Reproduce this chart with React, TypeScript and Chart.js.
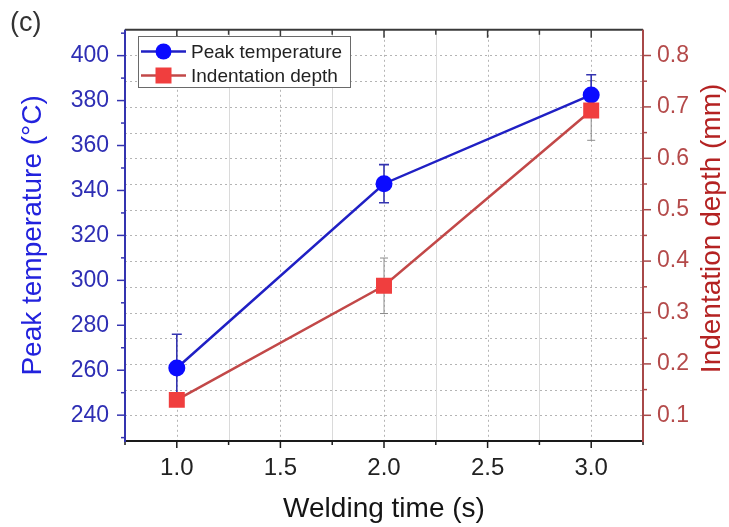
import React, { useEffect, useRef } from "react";
import { Chart, registerables } from "chart.js";

Chart.register(...registerables);

// ---- data ----
const weldingTime = [1.0, 2.0, 3.0];
const peakTemp = [261, 343, 382.5];
const peakTempErr = [15, 8.5, 9];
const indentDepth = [0.13, 0.352, 0.693];
const indentDepthErr = [0.01, 0.054, 0.058];

// ---- axes ----
const xRange = [0.75, 3.25];
const xMajorTicks = [1.0, 1.5, 2.0, 2.5, 3.0];
const xMinorTicks = [0.75, 1.25, 1.75, 2.25, 2.75, 3.25];
const tempRange = [228.5, 411.5];
const tempMajorTicks = [240, 260, 280, 300, 320, 340, 360, 380, 400];
const tempMinorTicks = [230, 250, 270, 290, 310, 330, 350, 370, 390, 410];
const depthRange = [0.05, 0.85];
const depthMajorTicks = [0.1, 0.2, 0.3, 0.4, 0.5, 0.6, 0.7, 0.8];
const depthMinorTicks = [0.15, 0.25, 0.35, 0.45, 0.55, 0.65, 0.75];

const seriesNames = ["Peak temperature", "Indentation depth"];
const xTitle = "Welding time (s)";
const leftTitle = "Peak temperature (°C)";
const rightTitle = "Indentation depth (mm)";
const panelLabel = "(c)";

const FONT = '"Liberation Sans", Arial, Helvetica, sans-serif';

const BLUE_LINE = "#2020c4";
const BLUE_MARK = "#0b0bff";
const BLUE_AXIS = "#3434b0";
const BLUE_TEXT = "#2e2eb4";
const BLUE_TITLE = "#2222dd";
const RED_LINE = "#c24848";
const RED_MARK = "#f03e3e";
const RED_AXIS = "#a84848";
const RED_TEXT = "#b44a4a";
const RED_TITLE = "#b42222";

const decorPlugin = {
  id: "decor",
  beforeDatasetsDraw(chart: any) {
    const { ctx, chartArea: a, scales } = chart;
    const xs = scales.x;
    const yl = scales.y;
    const yr = scales.y1;
    ctx.save();
    ctx.beginPath();
    ctx.rect(a.left, a.top, a.right - a.left, a.bottom - a.top);
    ctx.clip();
    // horizontal dotted grid (right axis major + minor)
    ctx.lineWidth = 1;
    ctx.strokeStyle = "#b4b4b4";
    ctx.setLineDash([2, 3]);
    for (const v of [...depthMajorTicks, ...depthMinorTicks]) {
      const py = Math.round(yr.getPixelForValue(v)) + 0.5;
      ctx.beginPath();
      ctx.moveTo(a.left, py);
      ctx.lineTo(a.right, py);
      ctx.stroke();
    }
    // vertical dotted at majors
    for (const v of xMajorTicks) {
      const px = Math.round(xs.getPixelForValue(v)) + 0.5;
      ctx.beginPath();
      ctx.moveTo(px, a.top);
      ctx.lineTo(px, a.bottom);
      ctx.stroke();
    }
    // vertical solid light at minors
    ctx.setLineDash([]);
    ctx.strokeStyle = "#dadada";
    for (const v of xMinorTicks) {
      const px = Math.round(xs.getPixelForValue(v)) + 0.5;
      ctx.beginPath();
      ctx.moveTo(px, a.top);
      ctx.lineTo(px, a.bottom);
      ctx.stroke();
    }
    ctx.restore();

    // error bars
    const drawErr = (x: number, v: number, e: number, scale: any, color: string, w: number, cap: number) => {
      const px = xs.getPixelForValue(x);
      const p1 = scale.getPixelForValue(v + e);
      const p2 = scale.getPixelForValue(v - e);
      ctx.save();
      ctx.strokeStyle = color;
      ctx.lineWidth = w;
      ctx.beginPath();
      ctx.moveTo(px, p1);
      ctx.lineTo(px, p2);
      ctx.moveTo(px - cap, p1);
      ctx.lineTo(px + cap, p1);
      ctx.moveTo(px - cap, p2);
      ctx.lineTo(px + cap, p2);
      ctx.stroke();
      ctx.restore();
    };
    weldingTime.forEach((t, i) => drawErr(t, indentDepth[i], indentDepthErr[i], yr, "#8c8c8c", 1, 4));
    weldingTime.forEach((t, i) => drawErr(t, peakTemp[i], peakTempErr[i], yl, BLUE_AXIS, 1.6, 5));
  },
  afterDraw(chart: any) {
    const { ctx, chartArea: a, scales } = chart;
    const xs = scales.x;
    const yl = scales.y;
    const yr = scales.y1;
    ctx.save();
    ctx.setLineDash([]);
    // top frame
    ctx.strokeStyle = "#3a3a3a";
    ctx.lineWidth = 2;
    ctx.beginPath();
    ctx.moveTo(a.left, a.top);
    ctx.lineTo(a.right, a.top);
    ctx.stroke();
    ctx.lineWidth = 1.5;
    for (const v of xMajorTicks) {
      const px = xs.getPixelForValue(v);
      ctx.beginPath(); ctx.moveTo(px, a.top); ctx.lineTo(px, a.top + 8); ctx.stroke();
    }
    for (const v of xMinorTicks) {
      const px = xs.getPixelForValue(v);
      ctx.beginPath(); ctx.moveTo(px, a.top); ctx.lineTo(px, a.top + 5); ctx.stroke();
    }
    // bottom axis
    ctx.strokeStyle = "#1a1a1a";
    ctx.lineWidth = 2;
    ctx.beginPath();
    ctx.moveTo(a.left, a.bottom);
    ctx.lineTo(a.right, a.bottom);
    ctx.stroke();
    ctx.lineWidth = 1.5;
    for (const v of xMajorTicks) {
      const px = xs.getPixelForValue(v);
      ctx.beginPath(); ctx.moveTo(px, a.bottom); ctx.lineTo(px, a.bottom + 7); ctx.stroke();
    }
    for (const v of xMinorTicks) {
      const px = xs.getPixelForValue(v);
      ctx.beginPath(); ctx.moveTo(px, a.bottom); ctx.lineTo(px, a.bottom + 4); ctx.stroke();
    }
    // left axis
    ctx.strokeStyle = BLUE_AXIS;
    ctx.lineWidth = 2;
    ctx.beginPath();
    ctx.moveTo(a.left, a.top);
    ctx.lineTo(a.left, a.bottom + 1);
    ctx.stroke();
    ctx.lineWidth = 1.5;
    for (const v of tempMajorTicks) {
      const py = yl.getPixelForValue(v);
      ctx.beginPath(); ctx.moveTo(a.left, py); ctx.lineTo(a.left - 8, py); ctx.stroke();
    }
    for (const v of tempMinorTicks) {
      const py = yl.getPixelForValue(v);
      ctx.beginPath(); ctx.moveTo(a.left, py); ctx.lineTo(a.left - 4, py); ctx.stroke();
    }
    // right axis
    ctx.strokeStyle = RED_AXIS;
    ctx.lineWidth = 2;
    ctx.beginPath();
    ctx.moveTo(a.right, a.top);
    ctx.lineTo(a.right, a.bottom + 1);
    ctx.stroke();
    ctx.lineWidth = 1.5;
    for (const v of depthMajorTicks) {
      const py = yr.getPixelForValue(v);
      ctx.beginPath(); ctx.moveTo(a.right, py); ctx.lineTo(a.right + 8, py); ctx.stroke();
    }
    for (const v of depthMinorTicks) {
      const py = yr.getPixelForValue(v);
      ctx.beginPath(); ctx.moveTo(a.right, py); ctx.lineTo(a.right + 4, py); ctx.stroke();
    }

    // right title (reads bottom to top)
    ctx.save();
    ctx.translate(712, (a.top + a.bottom) / 2 - 7);
    ctx.rotate(-Math.PI / 2);
    ctx.fillStyle = RED_TITLE;
    ctx.font = `28px ${FONT}`;
    ctx.textAlign = "center";
    ctx.textBaseline = "middle";
    ctx.fillText(rightTitle, 0, 0);
    ctx.restore();

    // panel label
    ctx.fillStyle = "#333333";
    ctx.font = `27px ${FONT}`;
    ctx.textAlign = "left";
    ctx.textBaseline = "middle";
    ctx.fillText(panelLabel, 10, 24);

    // legend
    const lx = 138, ly = 36, lw = 212, lh = 51;
    ctx.fillStyle = "#ffffff";
    ctx.fillRect(lx, ly, lw, lh);
    ctx.strokeStyle = "#6a6a6a";
    ctx.lineWidth = 1;
    ctx.strokeRect(lx + 0.5, ly + 0.5, lw, lh);
    const rows = [ly + 15.5, ly + 39.5];
    // blue
    ctx.strokeStyle = BLUE_LINE;
    ctx.lineWidth = 2.5;
    ctx.beginPath(); ctx.moveTo(141, rows[0]); ctx.lineTo(186, rows[0]); ctx.stroke();
    ctx.fillStyle = BLUE_MARK;
    ctx.beginPath(); ctx.arc(163.5, rows[0], 8, 0, Math.PI * 2); ctx.fill();
    // red
    ctx.strokeStyle = RED_LINE;
    ctx.beginPath(); ctx.moveTo(141, rows[1]); ctx.lineTo(186, rows[1]); ctx.stroke();
    ctx.fillStyle = RED_MARK;
    ctx.fillRect(163.5 - 8, rows[1] - 8, 16, 16);
    ctx.fillStyle = "#222222";
    ctx.font = `19px ${FONT}`;
    ctx.textAlign = "left";
    ctx.textBaseline = "middle";
    ctx.fillText(seriesNames[0], 191, rows[0] + 1);
    ctx.fillText(seriesNames[1], 191, rows[1] + 1);
    ctx.restore();
  },
};

export default function App() {
  const ref = useRef<HTMLCanvasElement | null>(null);
  useEffect(() => {
    document.body.style.margin = "0";
    const canvas = ref.current;
    if (!canvas) return;
    const chart = new Chart(canvas, {
      type: "line",
      data: {
        datasets: [
          {
            label: seriesNames[1],
            data: weldingTime.map((t, i) => ({ x: t, y: indentDepth[i] })),
            yAxisID: "y1",
            borderColor: RED_LINE,
            borderWidth: 2.5,
            pointStyle: "rect",
            pointRadius: 11.3,
            pointBackgroundColor: RED_MARK,
            pointBorderColor: RED_MARK,
            pointBorderWidth: 0,
            tension: 0,
          },
          {
            label: seriesNames[0],
            data: weldingTime.map((t, i) => ({ x: t, y: peakTemp[i] })),
            yAxisID: "y",
            borderColor: BLUE_LINE,
            borderWidth: 2.5,
            pointStyle: "circle",
            pointRadius: 8.5,
            pointBackgroundColor: BLUE_MARK,
            pointBorderColor: BLUE_MARK,
            pointBorderWidth: 0,
            tension: 0,
          },
        ],
      },
      options: {
        animation: false,
        responsive: false,
        devicePixelRatio: 1,
        events: [],
        layout: { padding: { top: 25, left: 0, right: 0, bottom: 0 } },
        plugins: { legend: { display: false }, tooltip: { enabled: false } },
        scales: {
          x: {
            type: "linear",
            position: "bottom",
            min: xRange[0],
            max: xRange[1],
            afterBuildTicks: (s: any) => {
              s.ticks = xMajorTicks.map((v) => ({ value: v }));
            },
            ticks: {
              font: { family: FONT, size: 24 },
              color: "#222222",
              padding: 13,
              maxRotation: 0,
              autoSkip: false,
              callback: (v: any) => Number(v).toFixed(1),
            },
            grid: { display: false, drawTicks: false },
            border: { display: false },
            title: {
              display: true,
              text: xTitle,
              font: { family: FONT, size: 28 },
              color: "#151515",
              padding: { top: 0, bottom: 1 },
            },
            afterFit: (s: any) => {
              s.height = 86;
            },
          },
          y: {
            type: "linear",
            position: "left",
            min: tempRange[0],
            max: tempRange[1],
            afterBuildTicks: (s: any) => {
              s.ticks = tempMajorTicks.map((v) => ({ value: v }));
            },
            ticks: {
              font: { family: FONT, size: 23 },
              color: BLUE_TEXT,
              padding: 16,
              callback: (v: any) => String(v),
            },
            grid: { display: false, drawTicks: false },
            border: { display: false },
            title: {
              display: true,
              text: leftTitle,
              font: { family: FONT, size: 28 },
              color: BLUE_TITLE,
              padding: { top: 16, bottom: 0 },
            },
            afterFit: (s: any) => {
              s.width = 125;
            },
          },
          y1: {
            type: "linear",
            position: "right",
            min: depthRange[0],
            max: depthRange[1],
            afterBuildTicks: (s: any) => {
              s.ticks = depthMajorTicks.map((v) => ({ value: v }));
            },
            ticks: {
              font: { family: FONT, size: 23 },
              color: RED_TEXT,
              padding: 14,
              callback: (v: any) => Number(v).toFixed(1),
            },
            grid: { display: false, drawTicks: false },
            border: { display: false },
            title: { display: false },
            afterFit: (s: any) => {
              s.width = 86;
            },
          },
        },
      },
      plugins: [decorPlugin],
    } as any);
    return () => chart.destroy();
  }, []);
  return <canvas ref={ref} width={729} height={527} style={{ display: "block" }} />;
}
